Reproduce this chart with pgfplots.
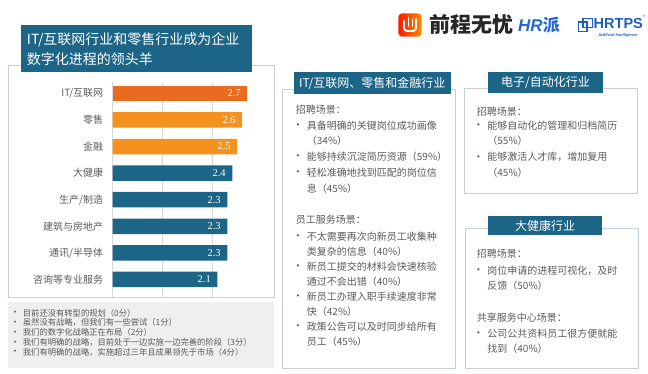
\documentclass[border=0pt]{standalone}
\usepackage{pgfplots}
\pgfplotsset{compat=1.18}
\usepackage{fontspec}
\setmainfont{Noto Sans CJK SC}
\newfontfamily\cjk{Noto Sans CJK SC}
\newfontfamily\serifnum{Liberation Serif}
\newfontfamily\lsans{Liberation Sans}
\definecolor{hdteal}{HTML}{1C6586}
\definecolor{orangeD}{HTML}{E86B1F}
\definecolor{orangeL}{HTML}{F5921E}
\definecolor{gridg}{HTML}{D9D9D9}
\definecolor{panelb}{HTML}{C5CFD8}
\definecolor{textg}{HTML}{5A5A5A}
\definecolor{notesbg}{HTML}{EFEFEF}
\definecolor{logoblue}{HTML}{1F5FB4}
\definecolor{hrblue}{HTML}{2468D2}
\newcommand\TL[3]{\node[anchor=west,inner sep=0pt,text=textg,font=\cjk\fontsize{10}{12}\selectfont] at (#1,#2) {#3};}
\newcommand\BL[3]{\node[anchor=center,inner sep=0pt,text=textg,font=\lsans\fontsize{8}{8}\selectfont] at (#1,#2) {•};\TL{#1+8.7}{#2}{#3}}
\newcommand\NL[2]{\node[anchor=center,inner sep=0pt,text=textg,font=\lsans\fontsize{7}{7}\selectfont] at (15,#1) {•};\node[anchor=west,inner sep=0pt,text=textg,font=\cjk\fontsize{8.3}{9}\selectfont] at (22.7,#1) {#2};}
\begin{document}
\begin{tikzpicture}
\begin{scope}[x=1pt,y=-1pt]
\path (0,0) rectangle (648,374);
\draw[panelb, line width=0.8pt] (8.3,65) rectangle (274,297);
\end{scope}
\begin{axis}[
  at={(112.7pt,-297pt)}, anchor=south west,
  scale only axis, width=160.9pt, height=215pt,
  xmin=0, xmax=3.23, ymin=-0.658, ymax=7.425,
  axis line style={draw=none},
  xtick={0,1,2}, xticklabels={}, major tick length=0pt,
  xmajorgrids, grid style={gridg, line width=0.6pt},
  ytick={0,...,7},
  yticklabels={咨询等专业服务,通讯/半导体,建筑与房地产,生产/制造,大健康,金融,零售,IT/互联网},
  yticklabel style={font=\cjk\fontsize{10}{12}\selectfont, text=textg, xshift=-6pt},
  xbar, bar width=15.5pt, bar shift=0pt,
  point meta=x,
  nodes near coords,
  nodes near coords style={/pgf/number format/fixed, /pgf/number format/precision=1, /pgf/number format/fixed zerofill, /pgf/number format/assume math mode=true},
  every node near coord/.append style={anchor=east, xshift=-3pt, text=white, font=\serifnum\fontsize{10.5}{11}\selectfont},
  clip=false,
]
\addplot[fill=orangeD, draw=none] coordinates {(2.7,7)};
\addplot[fill=orangeL, draw=none] coordinates {(2.6,6) (2.5,5)};
\addplot[fill=hdteal, draw=none] coordinates {(2.4,4) (2.3,3) (2.3,2) (2.3,1) (2.1,0)};
\end{axis}
\begin{scope}[x=1pt,y=-1pt]
% title
\fill[hdteal] (21,25) rectangle (252,72);
\node[anchor=west,inner sep=0pt,text=white,font=\cjk\fontsize{14}{16}\selectfont] at (26.7,40) {IT/互联网行业和零售行业成为企业};
\node[anchor=west,inner sep=0pt,text=white,font=\cjk\fontsize{14}{16}\selectfont] at (26.7,59.3) {数字化进程的领头羊};
% notes
\fill[notesbg] (8.3,302.3) rectangle (274,368);
\NL{313}{目前还没有转型的规划（0分）}
\NL{322.8}{虽然没有战略，但我们有一些尝试（1分）}
\NL{332.6}{我们的数字化战略正在布局（2分）}
\NL{342.4}{我们有明确的战略，目前处于一边实施一边完善的阶段（3分）}
\NL{352.2}{我们有明确的战略，实施超过三年且成果领先于市场（4分）}
% middle panel
\draw[panelb, line width=0.8pt] (282.7,89.3) rectangle (455.7,368.3);
\fill[hdteal] (294,72.3) rectangle (450.7,94.3);
\node[inner sep=0pt,text=white,font=\cjk\fontsize{12}{14}\selectfont] at (372.3,83.3) {IT/互联网、零售和金融行业};
\TL{295.7}{110}{招聘场景：}
\BL{298}{125.7}{具备明确的关键岗位成功画像}
\TL{306.7}{140.7}{（34\%）}
\BL{298}{156.7}{能够持续沉淀简历资源（59\%）}
\BL{298}{172.3}{轻松准确地找到匹配的岗位信}
\TL{306.7}{188.3}{息（45\%）}
\TL{295.7}{220}{员工服务场景：}
\BL{298}{237}{不太需要再次向新员工收集种}
\TL{306.7}{252}{类复杂的信息（40\%）}
\BL{298}{267}{新员工提交的材料会快速核验}
\TL{306.7}{282}{通过不会出错（40\%）}
\BL{298}{297}{新员工办理入职手续速度非常}
\TL{306.7}{312}{快（42\%）}
\BL{298}{327}{政策公告可以及时同步给所有}
\TL{306.7}{342}{员工（45\%）}
% right panel 1
\draw[panelb, line width=0.8pt] (464,88.3) rectangle (637.7,193.3);
\fill[hdteal] (488.3,72.3) rectangle (602.7,93.3);
\node[inner sep=0pt,text=white,font=\cjk\fontsize{12}{14}\selectfont] at (545.5,82.8) {电子/自动化行业};
\TL{476.7}{111.7}{招聘场景：}
\BL{478.5}{126}{能够自动化的管理和归档简历}
\TL{487.2}{141}{（55\%）}
\BL{478.5}{157.3}{能够激活人才库，增加复用}
\TL{487.2}{172.3}{（45\%）}
% right panel 2
\draw[panelb, line width=0.8pt] (465.7,228.3) rectangle (638.3,368.3);
\fill[hdteal] (488.3,216) rectangle (601.7,235);
\node[inner sep=0pt,text=white,font=\cjk\fontsize{12}{14}\selectfont] at (545,225.5) {大健康行业};
\TL{476.7}{254}{招聘场景：}
\BL{478.5}{271}{岗位申请的进程可视化，及时}
\TL{487.2}{286}{反馈（50\%）}
\TL{476.7}{317.3}{共享服务中心场景：}
\BL{478.5}{333.3}{公司公共资料员工很方便就能}
\TL{487.2}{348.3}{找到（40\%）}
% logo
\shade[left color=red!80!orange, right color=orange!90!yellow, rounded corners=4pt] (398.3,13.3) rectangle (421.7,36.7);
\draw[white, line width=1.8pt, line cap=round, rounded corners=3pt] (404,21) -- (404,31) -- (416,31) -- (416,19);
\draw[white, line width=1.8pt, line cap=round] (408.5,17.5) -- (408.5,26) (412.5,19) -- (412.5,26);
\node[anchor=west,inner sep=0pt,text=black!85,font=\cjk\bfseries\fontsize{21}{22}\selectfont] at (429,25) {前程无忧};
\node[anchor=west,inner sep=0pt,text=hrblue,font=\lsans\bfseries\itshape\fontsize{17}{18}\selectfont] at (518,25) {HR\cjk 派};
\draw[logoblue, line width=1.6pt] (578.5,22) rectangle (587,31.5) (583,18.5) rectangle (592.5,27.5);
\node[anchor=west,inner sep=0pt,text=logoblue,font=\lsans\bfseries\fontsize{14.5}{15}\selectfont] at (593.5,24) {HRTPS};
\node[inner sep=0pt,text=logoblue,font=\lsans\fontsize{3.5}{4}\selectfont] at (644,16.5) {\textregistered};
\node[inner sep=0pt,text=logoblue,font=\lsans\bfseries\itshape\fontsize{4}{4}\selectfont] at (618,35) {Artificial Intelligence};
\end{scope}
\end{tikzpicture}
\end{document}
